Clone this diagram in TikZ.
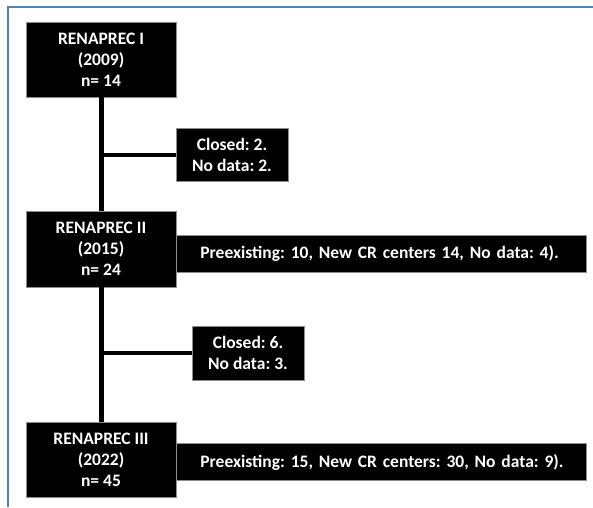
\documentclass[tikz,border=0pt]{standalone}
\usepackage{fontspec}
\setmainfont{Carlito}
\frenchspacing
\definecolor{frameblue}{HTML}{4F81BD}
\begin{document}
\begin{tikzpicture}[x=1pt,y=-1pt,
  blk/.style={draw=black!45, line width=0.8pt, fill=black, text=white, inner sep=0pt,
    font=\bfseries\fontsize{17.5}{21}\selectfont, align=center},
  bar/.style={blk, align=left, inner xsep=0pt, inner ysep=0pt, text width=410pt, minimum height=37pt},
  conn/.style={line width=5pt, black}]
\useasboundingbox (0,0) rectangle (593,507);
% frame
\draw[frameblue, line width=2pt] (8,507) -- (8,7) -- (593,7);
% nodes
\node[blk, minimum width=150pt, minimum height=75pt] (r1) at (101,59.5) {RENAPREC I\\(2009)\\n= 14};
\node[blk, minimum width=150pt, minimum height=76pt] (r2) at (101,249) {RENAPREC II\\(2015)\\n= 24};
\node[blk, minimum width=150pt, minimum height=75pt] (r3) at (101,459.5) {RENAPREC III\\(2022)\\n= 45};
\node[blk, minimum width=112pt, minimum height=53pt] (c1) at (232,154.5) {Closed: 2.\\No data: 2.};
\node[blk, minimum width=112pt, minimum height=54pt] (c2) at (248,353) {Closed: 6.\\No data: 3.};
\node[bar, anchor=west] (b2) at (176,253.5) {\hspace*{24pt}Preexisting: 10, New CR centers 14, No data: 4).};
\node[bar, anchor=west] (b3) at (176,462) {\hspace*{24pt}Preexisting: 15, New CR centers: 30, No data: 9).};
% connectors
\draw[conn] (r1.south) -- (r2.north);
\draw[conn] (r2.south) -- (r3.north);
\draw[conn, line width=4pt] (r1.south |- c1.west) -- (c1.west);
\draw[conn, line width=4pt] (r2.south |- c2.west) -- (c2.west);
\end{tikzpicture}
\end{document}
